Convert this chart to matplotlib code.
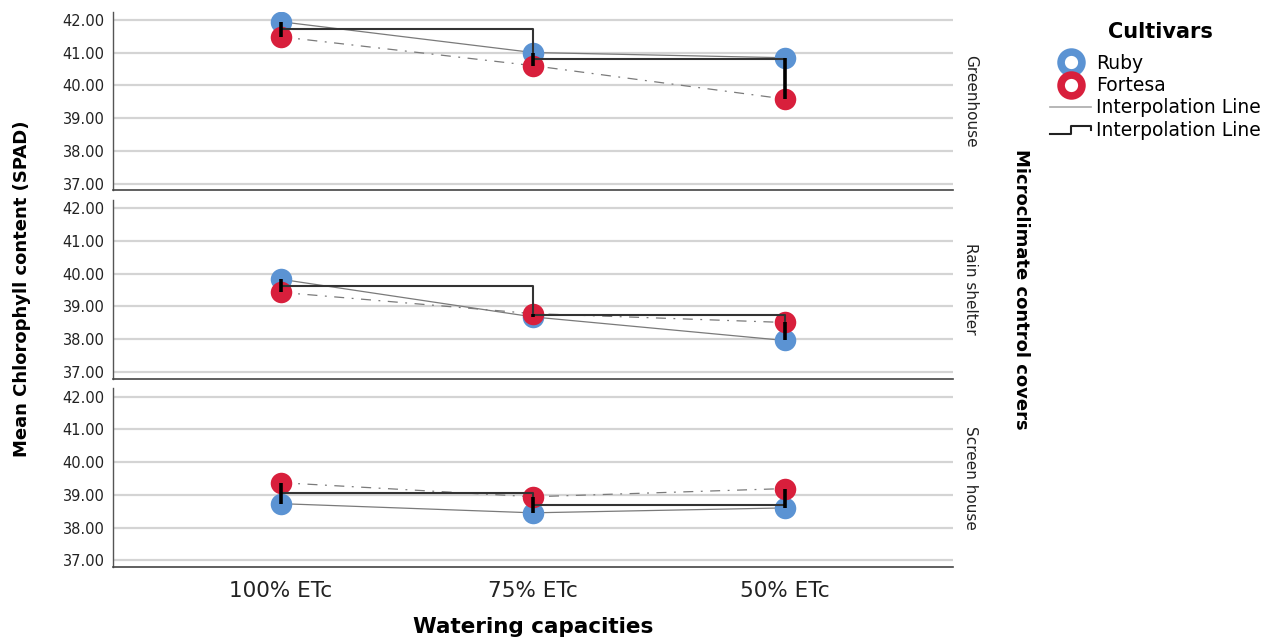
import matplotlib.pyplot as plt
from matplotlib.lines import Line2D
from matplotlib.legend_handler import HandlerBase
import numpy as np

# Mean SPAD readings per watering level, one list per cover and cultivar
watering = ['100% ETc', '75% ETc', '50% ETc']
covers = ['Greenhouse', 'Rain shelter', 'Screen house']
ruby = {
    'Greenhouse': [41.94, 41.00, 40.84],
    'Rain shelter': [39.83, 38.68, 37.96],
    'Screen house': [38.73, 38.45, 38.60],
}
fortesa = {
    'Greenhouse': [41.48, 40.60, 39.58],
    'Rain shelter': [39.43, 38.78, 38.51],
    'Screen house': [39.37, 38.94, 39.19],
}
yticks = [37, 38, 39, 40, 41, 42]

ruby_color = '#5b93d3'
fortesa_color = '#d81f3c'

plt.rcParams['font.family'] = ['DejaVu Sans']


class StepHandler(HandlerBase):
    # small step-shaped icon for the mean interpolation line
    def create_artists(self, legend, orig_handle, xdescent, ydescent,
                       width, height, fontsize, trans):
        x0 = -xdescent
        xs = [x0, x0 + 0.5 * width, x0 + 0.5 * width, x0 + width, x0 + width]
        ys = [0.1 * height, 0.1 * height, 0.75 * height, 0.75 * height, 0.45 * height]
        line = Line2D(xs, ys, color='#222222', lw=1.5, transform=trans)
        return [line]


fig, axes = plt.subplots(3, 1, figsize=(12.72, 6.42), dpi=100, sharex=True)
fig.subplots_adjust(left=0.0888, right=0.749, top=0.982, bottom=0.117, hspace=0.055)

x = np.arange(len(watering))
for ax, cover in zip(axes, covers):
    r = np.array(ruby[cover])
    f = np.array(fortesa[cover])
    mean = (r + f) / 2

    for y in yticks:
        ax.axhline(y, color='#d4d4d4', lw=1.6, zorder=0)

    ax.plot(x, r, color='#7a7a7a', lw=0.9, zorder=2)
    ax.plot(x, f, color='#7a7a7a', lw=0.9, ls=(0, (8, 6, 1.5, 6)), zorder=2)

    ax.plot(x, r, 'o', color=ruby_color, ms=15.5, mec='none', zorder=3)
    ax.plot(x, f, 'o', color=fortesa_color, ms=15.5, mec='none', zorder=3)

    # step line through the cultivar means
    ax.step(x, mean, where='post', color='#333333', lw=1.5, zorder=4)
    ax.vlines(x, np.minimum(r, f), np.maximum(r, f), color='black', lw=2.6, zorder=5)

    ax.set_ylim(36.8, 42.25)
    ax.set_xlim(-0.665, 2.665)
    ax.set_yticks(yticks)
    ax.set_yticklabels(['%.2f' % v for v in yticks], fontsize=10.5, color='#222222')
    ax.tick_params(axis='y', length=0, pad=6)
    ax.tick_params(axis='x', length=0)
    for side in ['top', 'right']:
        ax.spines[side].set_visible(False)
    ax.spines['left'].set_color('#555555')
    ax.spines['bottom'].set_color('#444444')
    ax.spines['left'].set_linewidth(1.0)
    ax.spines['bottom'].set_linewidth(1.2)

    ax.text(1.012, 0.5, cover, transform=ax.transAxes, rotation=-90,
            ha='left', va='center', fontsize=11, color='#222222')

axes[-1].set_xticks(x)
axes[-1].set_xticklabels(watering, fontsize=15.5, color='#222222')
axes[-1].tick_params(axis='x', pad=10)
axes[-1].set_xlabel('Watering capacities', fontsize=15.5, fontweight='bold', labelpad=12)

fig.text(0.017, 0.55, 'Mean Chlorophyll content (SPAD)', rotation=90,
         ha='center', va='center', fontsize=13, fontweight='bold')
fig.text(0.803, 0.55, 'Microclimate control covers', rotation=-90,
         ha='center', va='center', fontsize=13, fontweight='bold')

handles = [
    Line2D([], [], marker='o', ls='none', color=ruby_color, ms=15,
           mfc='white', mec=ruby_color, mew=5.5),
    Line2D([], [], marker='o', ls='none', color=fortesa_color, ms=15,
           mfc='white', mec=fortesa_color, mew=5.5),
    Line2D([], [], color='#aaaaaa', lw=1.2),
    'step',
]
labels = ['Ruby', 'Fortesa', 'Interpolation Line', 'Interpolation Line']
fig.text(1160 / 1272, 1 - 32 / 642, 'Cultivars', ha='center', va='center',
         fontsize=15, fontweight='bold')
fig.legend(handles, labels, loc='upper left',
           bbox_to_anchor=(1050 / 1272, 1 - 54 / 642), frameon=False,
           fontsize=13.5, handlelength=2.2, handletextpad=0.25,
           labelspacing=0.17, borderaxespad=0, borderpad=0,
           handler_map={str: StepHandler()})

fig.savefig('out.png', dpi=100)
